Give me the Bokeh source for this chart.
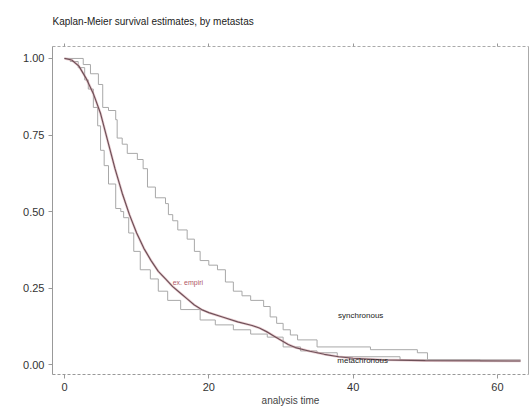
from bokeh.plotting import figure
from bokeh.models import (Range1d, LinearAxis, FixedTicker, Label, NumeralTickFormatter,
                          CustomLabelingPolicy)
from bokeh.embed import file_html
from bokeh.resources import INLINE

# --- data ---
sync_t = [0, 2.6, 3.6, 4.7, 5.3, 6.1, 7.1, 7.3, 8.0, 8.7, 10.1, 10.9, 11.5, 12.6, 14.0, 14.4, 15.0,
          15.7, 17.0, 18.0, 18.8, 20.0, 21.2, 22.3, 23.4, 24.6, 25.8, 27.6, 28.5, 29.4, 30.3,
          31.3, 32.3, 35.0, 42.4, 48.9, 50.3, 63.2]
sync_s = [1.0, 0.98, 0.95, 0.915, 0.84, 0.83, 0.80, 0.74, 0.72, 0.69, 0.67, 0.64, 0.58, 0.545, 0.526,
          0.49, 0.47, 0.44, 0.41, 0.37, 0.34, 0.325, 0.31, 0.27, 0.24, 0.225, 0.21, 0.19, 0.156,
          0.135, 0.114, 0.097, 0.081, 0.058, 0.049, 0.039, 0.016, 0.016]

meta_t = [0, 0.8, 1.9, 2.8, 3.3, 4.0, 4.6, 5.0, 5.5, 6.1, 7.1, 7.8, 8.2, 8.9, 9.6, 10.5, 11.9, 13.0,
          14.3, 16.1, 18.8, 20.9, 23.4, 25.8, 28.1, 30.3, 32.7, 35.0, 37.8, 46.5, 57.6, 63.2]
meta_s = [1.0, 0.99, 0.97, 0.93, 0.90, 0.84, 0.78, 0.70, 0.65, 0.59, 0.51, 0.50, 0.48, 0.43, 0.37,
          0.31, 0.28, 0.24, 0.21, 0.18, 0.146, 0.13, 0.114, 0.10, 0.09, 0.058, 0.045, 0.039, 0.026,
          0.016, 0.012, 0.012]

fit_t = [0, 1, 2, 3, 4, 5, 6, 7, 8, 9, 10, 11, 12, 13, 14, 15, 16, 17, 18, 19, 20, 22, 24, 26,
         27, 28, 29, 30, 31, 32, 34, 36, 38, 40, 44, 50, 63.2]
fit_s = [1.0, 0.995, 0.975, 0.935, 0.885, 0.82, 0.73, 0.64, 0.56, 0.49, 0.43, 0.38, 0.34, 0.305,
         0.28, 0.255, 0.235, 0.215, 0.195, 0.18, 0.17, 0.155, 0.14, 0.128, 0.12, 0.108, 0.094,
         0.08, 0.066, 0.056, 0.044, 0.034, 0.026, 0.021, 0.016, 0.013, 0.012]

x_ticks = [0, 20, 40, 60]
y_ticks = [0, 0.25, 0.5, 0.75, 1.0]

FONT = "Liberation Sans"

p = figure(width=530, height=408, output_backend="svg", toolbar_location=None,
           x_range=Range1d(-1.66, 64.3), y_range=Range1d(-0.032, 1.039),
           min_border_left=52, min_border_right=2, min_border_top=45, min_border_bottom=30,
           title="Kaplan-Meier survival estimates, by metastas")
p.outline_line_color = None
p.grid.visible = False
p.background_fill_color = "white"
p.border_fill_color = "white"

p.title.text_font = FONT
p.title.text_font_size = "10px"
p.title.text_font_style = "normal"
p.title.text_color = "#222222"
p.title.standoff = 26

# axes
xa = p.xaxis[0]
xa.ticker = FixedTicker(ticks=x_ticks)
xa.axis_label = "analysis time"
xa.axis_label_text_font = FONT
xa.axis_label_text_font_size = "10px"
xa.axis_label_text_font_style = "normal"
xa.axis_label_standoff = 1
xa.major_label_text_font = FONT
xa.major_label_text_font_size = "11px"
xa.major_label_text_color = "#333333"
xa.major_label_standoff = 4
xa.major_tick_out = 4
xa.major_tick_in = 0
xa.minor_tick_line_color = None
xa.axis_line_color = "#999999"
xa.axis_line_dash = "3 2"
xa.major_tick_line_color = "#999999"

ya = p.yaxis[0]
ya.ticker = FixedTicker(ticks=y_ticks)
ya.formatter = NumeralTickFormatter(format="0.00")
ya.major_label_text_font = FONT
ya.major_label_text_font_size = "11px"
ya.major_label_text_color = "#333333"
ya.major_label_standoff = 4
ya.major_tick_out = 4
ya.major_tick_in = 0
ya.minor_tick_line_color = None
ya.axis_line_color = "#999999"
ya.major_tick_line_color = "#999999"

no_labels = CustomLabelingPolicy(code="""
    for (const i of indices) { indices.unset(i) }
    return indices
""")

top = LinearAxis(ticker=FixedTicker(ticks=x_ticks), major_label_policy=no_labels)
top.major_label_text_font_size = "1px"
top.major_label_standoff = 0
top.major_tick_out = 3
top.major_tick_in = 0
top.minor_tick_line_color = None
top.axis_line_color = "#aaaaaa"
top.axis_line_dash = "3 2"
top.major_tick_line_color = "#999999"
p.add_layout(top, "above")

right = LinearAxis(ticker=FixedTicker(ticks=[]), major_label_policy=no_labels)
right.major_label_text_font_size = "1px"
right.major_tick_line_color = None
right.minor_tick_line_color = None
right.axis_line_color = "#aaaaaa"
p.add_layout(right, "right")

# curves
p.step(sync_t, sync_s, mode="after", line_color="#a8a8a8", line_width=1)
p.step(meta_t, meta_s, mode="after", line_color="#a8a8a8", line_width=1)
p.line(fit_t, fit_s, line_color="#d8a0a8", line_width=2.6, line_alpha=0.5)
p.line(fit_t, fit_s, line_color="#6e5058", line_width=1.2)

# labels
p.add_layout(Label(x=15.0, y=0.27, text="ex. empiri", text_font=FONT, text_font_size="7px",
                   text_color="#b05868", text_baseline="middle"))
p.add_layout(Label(x=37.9, y=0.162, text="synchronous", text_font=FONT, text_font_size="8px",
                   text_color="#222222", text_baseline="middle"))
p.add_layout(Label(x=37.8, y=0.013, text="metachronous", text_font=FONT, text_font_size="8px",
                   text_color="#222222", text_baseline="middle"))

open("out.html", "w").write(file_html(p, INLINE))
